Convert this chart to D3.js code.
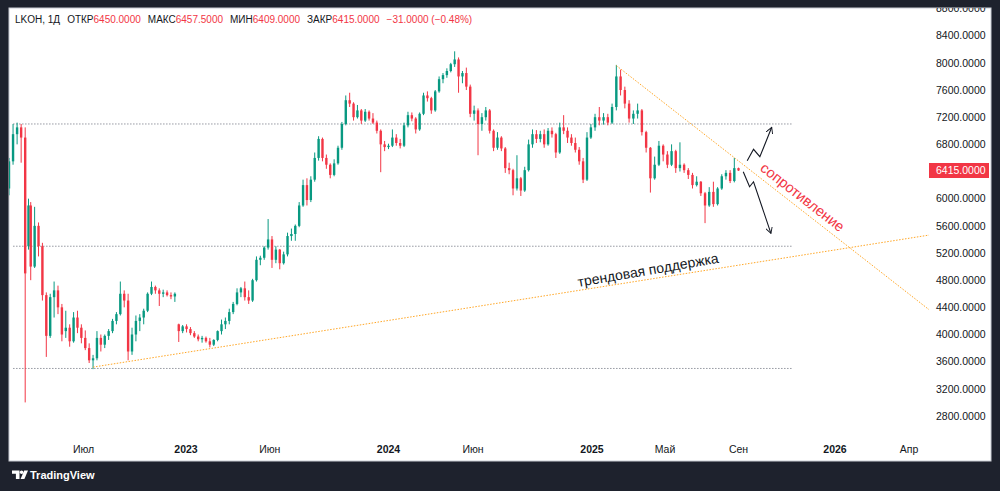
<!DOCTYPE html>
<html lang="ru">
<head>
<meta charset="utf-8">
<style>
    html, body {
        margin: 0;
        padding: 0;
        background: #1e222d;
    }
    svg { display: block; }
    text { font-family: "Liberation Sans", Arial, sans-serif; }
</style>
</head>
<body>
<script src="https://cdn.jsdelivr.net/npm/d3@7"></script>
<script>
var dates = [
    '2022-01-24','2022-01-31','2022-02-07','2022-02-14','2022-02-21','2022-03-24','2022-03-28',
    '2022-04-04','2022-04-11','2022-04-18','2022-04-25','2022-05-02','2022-05-09','2022-05-16','2022-05-23','2022-05-30',
    '2022-06-06','2022-06-13','2022-06-20','2022-06-27','2022-07-04','2022-07-11','2022-07-18','2022-07-25',
    '2022-08-01','2022-08-08','2022-08-15','2022-08-22','2022-08-29','2022-09-05','2022-09-12','2022-09-19','2022-09-26',
    '2022-10-03','2022-10-10','2022-10-17','2022-10-24','2022-10-31','2022-11-07','2022-11-14','2022-11-21','2022-11-28',
    '2022-12-05','2022-12-12','2022-12-19','2022-12-26',
    '2023-01-02','2023-01-09','2023-01-16','2023-01-23','2023-01-30','2023-02-06','2023-02-13','2023-02-20','2023-02-27',
    '2023-03-06','2023-03-13','2023-03-20','2023-03-27','2023-04-03','2023-04-10','2023-04-17','2023-04-24',
    '2023-05-01','2023-05-08','2023-05-15','2023-05-22','2023-05-29','2023-06-05','2023-06-12','2023-06-19','2023-06-26',
    '2023-07-03','2023-07-10','2023-07-17','2023-07-24','2023-07-31','2023-08-07','2023-08-14','2023-08-21','2023-08-28',
    '2023-09-04','2023-09-11','2023-09-18','2023-09-25','2023-10-02','2023-10-09','2023-10-16','2023-10-23','2023-10-30',
    '2023-11-06','2023-11-13','2023-11-20','2023-11-27','2023-12-04','2023-12-11','2023-12-18','2023-12-25',
    '2024-01-01','2024-01-08','2024-01-15','2024-01-22','2024-01-29','2024-02-05','2024-02-12','2024-02-19','2024-02-26',
    '2024-03-04','2024-03-11','2024-03-18','2024-03-25','2024-04-01','2024-04-08','2024-04-15','2024-04-22','2024-04-29',
    '2024-05-06','2024-05-13','2024-05-20','2024-05-27','2024-06-03','2024-06-10','2024-06-17','2024-06-24',
    '2024-07-01','2024-07-08','2024-07-15','2024-07-22','2024-07-29','2024-08-05','2024-08-12','2024-08-19','2024-08-26',
    '2024-09-02','2024-09-09','2024-09-16','2024-09-23','2024-09-30','2024-10-07','2024-10-14','2024-10-21','2024-10-28',
    '2024-11-04','2024-11-11','2024-11-18','2024-11-25','2024-12-02','2024-12-09','2024-12-16','2024-12-23','2024-12-30',
    '2025-01-06','2025-01-13','2025-01-20','2025-01-27','2025-02-03','2025-02-10','2025-02-17','2025-02-24',
    '2025-03-03','2025-03-10','2025-03-17','2025-03-24','2025-03-31','2025-04-07','2025-04-14','2025-04-21','2025-04-28',
    '2025-05-05','2025-05-12','2025-05-19','2025-05-26','2025-06-02','2025-06-09','2025-06-16','2025-06-23','2025-06-30',
    '2025-07-07','2025-07-14','2025-07-21','2025-07-28','2025-08-04','2025-08-11','2025-08-18','2025-08-25','2025-09-01'
];
var open = [
    6150,6550,6950,7050,6900,5300,5900,
    5000,5600,5300,4580,3980,4550,4650,4400,4050,
    4100,3900,4250,4100,3950,3800,3620,3650,
    3950,3850,3980,4050,4200,4300,4600,4500,3750,
    4000,4200,4250,4350,4600,4700,4650,4600,4620,
    4580,4560,4150,4050,
    4120,4080,4020,3970,3930,3950,3900,3850,3920,
    4050,4150,4200,4330,4450,4620,4680,4550,
    4500,4800,5100,5130,5280,5400,5100,5250,5050,
    5180,5450,5480,5600,5900,6200,5980,6280,6600,
    6880,6600,6500,6350,6520,6750,7100,7450,7400,
    7200,7300,7150,7280,7180,7120,7000,6800,
    6760,6780,6900,6820,6780,7080,7230,7180,7020,
    7250,7520,7480,7300,7580,7760,7820,7880,7980,
    8050,7800,7850,7650,7250,7300,7100,7200,
    7300,7000,6750,6900,6740,6450,6420,6150,6300,
    6120,6420,6800,6950,6880,6950,6800,7000,6950,
    6680,7050,7000,6900,6820,6720,6550,6280,6900,
    7050,7200,7150,7200,7120,7350,7800,7600,
    7400,7180,7250,7300,6980,6750,6300,6500,6780,
    6650,6500,6700,6450,6500,6420,6350,6200,6250,
    6080,5900,6100,5920,6150,6330,6380,6260,6450
];
var high = [
    6600,7100,7120,7100,7050,6000,5950,
    5880,5650,5350,4620,4600,4780,4720,4450,4350,
    4150,4330,4350,4150,4060,3870,3700,4050,
    4000,4000,4080,4230,4330,4780,4650,4600,4100,
    4280,4300,4380,4620,4780,4720,4680,4660,4650,
    4620,4620,4160,4140,
    4150,4110,4050,4000,3980,3970,3950,3930,4060,
    4220,4250,4380,4480,4680,4700,4780,4650,
    4820,5150,5160,5300,5700,5450,5300,5260,5220,
    5500,5560,5620,5950,6280,6300,6330,6680,6920,
    6900,6650,6520,6580,6780,7130,7520,7560,7420,
    7380,7320,7320,7300,7260,7150,7020,6850,
    6810,7020,6950,6880,7120,7280,7270,7200,7270,
    7560,7580,7500,7600,7800,7850,7920,8000,8170,
    8080,7880,7930,7680,7370,7330,7260,7350,
    7320,7020,6980,6920,6760,6530,6440,6640,6320,
    6470,6870,7020,7010,7000,7020,7040,7050,6970,
    7120,7230,7050,6950,6900,6760,6600,6980,7100,
    7250,7350,7260,7250,7400,7970,7900,7650,
    7450,7300,7400,7320,7000,6760,6620,6850,6800,
    6700,6800,6720,6830,6520,6450,6380,6330,6260,
    6100,6170,6250,6170,6360,6420,6420,6600,6457.5
];
var low = [
    6050,6500,6800,6530,3000,5250,4800,
    4980,5150,4500,3670,3950,4250,4300,3900,3950,
    3820,3880,4020,3870,3770,3580,3490,3620,
    3750,3800,3920,4020,4150,4280,4400,3620,3700,
    3900,4050,4150,4330,4580,4600,4420,4550,4560,
    4520,4480,3890,4020,
    4030,3990,3950,3900,3880,3880,3810,3830,3900,
    4000,4080,4150,4300,4430,4550,4500,4450,
    4480,4780,5020,5100,5250,4980,5050,4960,5030,
    5150,5380,5380,5580,5880,5900,5950,6250,6560,
    6550,6440,6300,6330,6500,6720,7080,7350,7150,
    7180,7100,7130,7150,7100,6960,6390,6700,
    6730,6760,6780,6740,6760,7050,7140,6960,7000,
    7230,7430,7250,7280,7560,7700,7780,7860,7940,
    7560,7700,7600,7200,7150,6640,7000,7150,
    6960,6700,6720,6700,6380,6360,6050,6120,6040,
    6100,6400,6750,6820,6830,6750,6780,6900,6600,
    6660,6950,6820,6780,6680,6500,6230,6260,6880,
    7000,7080,7090,7080,7100,7300,7520,7330,
    7120,7100,7180,6930,6680,6090,6280,6480,6550,
    6450,6480,6380,6400,6380,6290,6150,6180,6040,
    5640,5880,5880,5900,6130,6280,6230,6240,6409
];
var close = [
    6550,6950,7050,6900,4900,5900,5000,
    5600,5300,4580,3980,4550,4650,4400,4000,4100,
    3900,4250,4100,3950,3800,3620,3650,3950,
    3850,3980,4050,4200,4300,4600,4500,3750,4000,
    4200,4250,4350,4600,4700,4650,4600,4620,4580,
    4560,4600,4050,4120,
    4080,4020,3970,3930,3950,3900,3850,3920,4050,
    4150,4200,4330,4450,4620,4680,4550,4500,
    4800,5100,5130,5280,5400,5100,5250,5050,5180,
    5450,5480,5600,5900,6200,5980,6280,6600,6880,
    6600,6500,6350,6520,6750,7100,7450,7400,7200,
    7300,7150,7280,7180,7120,7000,6800,6760,
    6780,6900,6820,6780,7080,7230,7180,7020,7250,
    7520,7480,7300,7580,7760,7820,7880,7980,8050,
    7800,7850,7650,7250,7300,7100,7200,7300,
    7000,6750,6900,6740,6450,6420,6150,6300,6120,
    6420,6800,6950,6880,6950,6800,7000,6950,6680,
    7050,7000,6900,6820,6720,6550,6280,6900,7050,
    7200,7150,7200,7120,7350,7800,7600,7400,
    7180,7250,7300,6980,6750,6300,6500,6780,6650,
    6500,6700,6450,6500,6420,6350,6200,6250,6080,
    5900,6100,5920,6150,6330,6380,6260,6450,6415
];

// price axis and time axis
var priceTicks = [2800,3200,3600,4000,4400,4800,5200,5600,6000,6400,6800,7200,7600,8000,8400,8800];
var timeTickDates = ['2022-07-01','2023-01-01','2023-06-01','2024-01-01','2024-06-01','2025-01-01','2025-05-01','2025-09-01','2026-01-01','2026-04-01'];
var timeTickLabels = ['Июл','2023','Июн','2024','Июн','2025','Май','Сен','2026','Апр'];

// drawings
var levels = [7100, 5300, 3500];
var levelSpan = ['2022-01-31', '2025-11-09'];
var supportDates = ['2022-07-18', '2026-04-26'];
var supportPrices = [3520, 5465];
var resistDates = ['2025-02-10', '2026-04-26'];
var resistPrices = [7960, 4360];
var upArrowDates = ['2025-09-12', '2025-09-20', '2025-09-28', '2025-10-13'];
var upArrowPrices = [6560, 6727, 6618, 7051];
var downArrowDates = ['2025-09-07', '2025-09-15', '2025-09-20', '2025-10-12'];
var downArrowPrices = [6397, 6176, 6249, 5489];
var lastPrice = 6415;

// header: [text, gap before, colour]
var headerParts = [
    ['LKOH, 1Д', 0, '#131722'], ['ОТКР', 7, '#131722'], ['6450.0000', 0, '#f23645'],
    ['МАКС', 7, '#131722'], ['6457.5000', 0, '#f23645'], ['МИН', 7, '#131722'],
    ['6409.0000', 0, '#f23645'], ['ЗАКР', 7, '#131722'], ['6415.0000', 0, '#f23645'],
    ['−31.0000 (−0.48%)', 7, '#f23645']
];

var W = 1000, H = 491;
var up = '#089981', down = '#f23645';
var parse = d3.timeParse('%Y-%m-%d');

var svg = d3.select('body').append('svg')
    .attr('width', W)
    .attr('height', H);

var defs = svg.append('defs');
defs.append('clipPath').attr('id', 'panel')
    .append('rect').attr('x', 9).attr('y', 8).attr('width', 982).attr('height', 453);
defs.append('clipPath').attr('id', 'plot')
    .append('rect').attr('x', 9).attr('y', 8).attr('width', 920).attr('height', 430);
defs.append('marker')
    .attr('id', 'head')
    .attr('viewBox', '0 0 10 10')
    .attr('refX', 9).attr('refY', 5)
    .attr('markerWidth', 7).attr('markerHeight', 7)
    .attr('markerUnits', 'userSpaceOnUse')
    .attr('orient', 'auto')
    .append('path')
    .attr('d', 'M0,0 L9,5 L0,10')
    .attr('fill', 'none')
    .attr('stroke', '#131722')
    .attr('stroke-width', 1.3);

svg.append('rect')
    .attr('x', 9).attr('y', 8)
    .attr('width', 982).attr('height', 453)
    .attr('fill', '#ffffff')
    .attr('stroke', '#c9ccd3')
    .attr('stroke-width', 1);

// TradingView spaces bars, not days, so the date scale is piecewise
var x = d3.scaleTime()
    .domain(['2022-01-24','2022-02-25','2022-03-24','2023-01-01','2024-01-01','2025-01-01','2025-05-01','2025-09-01','2026-01-01','2026-04-01'].map(parse))
    .range([9, 27.5, 28.5, 186, 388.5, 592, 665, 738.5, 835, 909]);
var y = d3.scaleLinear()
    .domain([2800, 8400])
    .range([416, 35.7]);

var candles = dates.map(function (d, i) {
    return { date: parse(d), o: open[i], h: high[i], l: low[i], c: close[i] };
});

var panel = svg.append('g').attr('clip-path', 'url(#panel)');
var plot = panel.append('g').attr('clip-path', 'url(#plot)');

// horizontal levels
plot.selectAll('line.level')
    .data(levels)
    .enter()
    .append('line')
    .attr('class', 'level')
    .attr('x1', x(parse(levelSpan[0])))
    .attr('x2', x(parse(levelSpan[1])))
    .attr('y1', function (d) { return y(d); })
    .attr('y2', function (d) { return y(d); })
    .attr('stroke', '#9598a1')
    .attr('stroke-width', 1)
    .attr('stroke-dasharray', '1.5,1.5');

// candles
var c = plot.selectAll('g.candle')
    .data(candles)
    .enter()
    .append('g')
    .attr('class', 'candle');
c.append('line')
    .attr('x1', function (d) { return x(d.date); })
    .attr('x2', function (d) { return x(d.date); })
    .attr('y1', function (d) { return y(d.h); })
    .attr('y2', function (d) { return y(d.l); })
    .attr('stroke', function (d) { return d.c >= d.o ? up : down; })
    .attr('stroke-width', 1);
c.append('rect')
    .attr('x', function (d) { return x(d.date) - 1.2; })
    .attr('width', 2.4)
    .attr('y', function (d) { return y(Math.max(d.o, d.c)); })
    .attr('height', function (d) { return Math.max(0.8, Math.abs(y(d.o) - y(d.c))); })
    .attr('fill', function (d) { return d.c >= d.o ? up : down; });

// trend lines
var line = d3.line()
    .x(function (d) { return x(parse(d[0])); })
    .y(function (d) { return y(d[1]); });
[[supportDates, supportPrices], [resistDates, resistPrices]].forEach(function (t) {
    plot.append('path')
        .datum(d3.zip(t[0], t[1]))
        .attr('d', line)
        .attr('fill', 'none')
        .attr('stroke', '#ffa726')
        .attr('stroke-width', 1)
        .attr('stroke-dasharray', '1.5,1.5');
});

// scenario arrows
[[upArrowDates, upArrowPrices], [downArrowDates, downArrowPrices]].forEach(function (t) {
    plot.append('path')
        .datum(d3.zip(t[0], t[1]))
        .attr('d', line)
        .attr('fill', 'none')
        .attr('stroke', '#131722')
        .attr('stroke-width', 1.1)
        .attr('marker-end', 'url(#head)');
});

function angleOf(ds, ps) {
    var dx = x(parse(ds[1])) - x(parse(ds[0]));
    var dy = y(ps[1]) - y(ps[0]);
    return Math.atan2(dy, dx) * 180 / Math.PI;
}

// labels on the drawings
var supX = x(parse('2025-04-03')), supY = y(4950);
plot.append('text')
    .attr('transform', 'translate(' + supX + ',' + supY + ') rotate(' + (angleOf(supportDates, supportPrices) - 0.8) + ')')
    .attr('text-anchor', 'middle')
    .attr('dy', '0.35em')
    .attr('font-size', 14)
    .attr('fill', '#131722')
    .text('трендовая поддержка');
var resX = x(parse('2025-11-21')), resY = y(6024);
plot.append('text')
    .attr('transform', 'translate(' + resX + ',' + resY + ') rotate(' + angleOf(resistDates, resistPrices) + ')')
    .attr('text-anchor', 'middle')
    .attr('dy', '0.35em')
    .attr('font-size', 14.5)
    .attr('fill', '#f23645')
    .text('сопротивление');

// price axis
panel.selectAll('text.ptick')
    .data(priceTicks)
    .enter()
    .append('text')
    .attr('class', 'ptick')
    .attr('x', 936)
    .attr('y', function (d) { return y(d); })
    .attr('dy', '0.35em')
    .attr('font-size', 10.5)
    .attr('fill', '#131722')
    .text(function (d) { return d3.format('.4f')(d); });

panel.append('rect')
    .attr('x', 929).attr('y', y(lastPrice) - 7.5)
    .attr('width', 60).attr('height', 15)
    .attr('fill', '#f23645');
panel.append('text')
    .attr('x', 936)
    .attr('y', y(lastPrice))
    .attr('dy', '0.35em')
    .attr('font-size', 10.5)
    .attr('fill', '#ffffff')
    .text(d3.format('.4f')(lastPrice));

// time axis
panel.selectAll('text.ttick')
    .data(timeTickDates)
    .enter()
    .append('text')
    .attr('class', 'ttick')
    .attr('x', function (d) { return x(parse(d)); })
    .attr('y', 449)
    .attr('dy', '0.35em')
    .attr('text-anchor', 'middle')
    .attr('font-size', 10.5)
    .attr('font-weight', function (d, i) { return /^\d+$/.test(timeTickLabels[i]) ? 700 : 400; })
    .attr('fill', '#131722')
    .text(function (d, i) { return timeTickLabels[i]; });

// header, one line of tspans so the pieces never collide
panel.append('text')
    .attr('x', 15)
    .attr('y', 19)
    .attr('dy', '0.35em')
    .attr('font-size', 10)
    .selectAll('tspan')
    .data(headerParts)
    .enter()
    .append('tspan')
    .attr('dx', function (d) { return d[1]; })
    .attr('fill', function (d) { return d[2]; })
    .text(function (d) { return d[0]; });

// watermark
var logo = svg.append('g').attr('fill', '#ffffff');
logo.append('path').attr('d', 'M12,470.5 h7.5 v8.5 h-3.6 v-5.2 h-3.9 z');
logo.append('circle').attr('cx', 21.6).attr('cy', 472.3).attr('r', 1.8);
logo.append('path').attr('d', 'M24.2,470.5 h3.8 l-3.6,8.5 h-3.8 z');
logo.append('text')
    .attr('x', 30).attr('y', 475).attr('dy', '0.35em')
    .attr('font-size', 11)
    .attr('font-weight', 700)
    .text('TradingView');
</script>
</body>
</html>
